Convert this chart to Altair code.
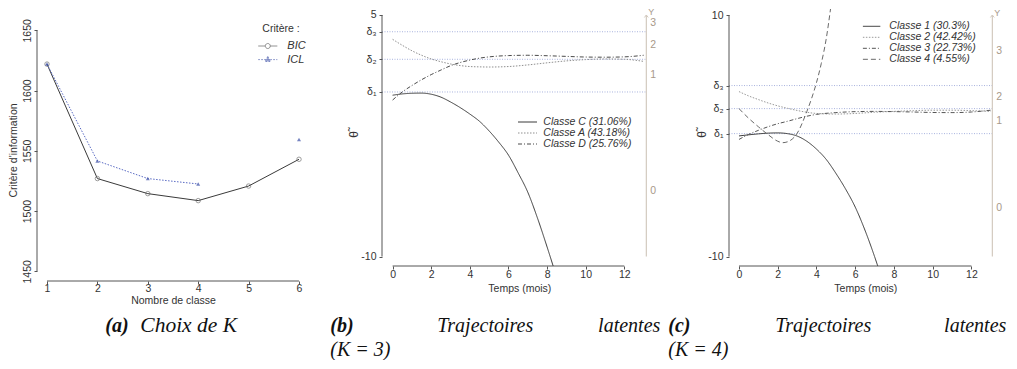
import altair as alt
import pandas as pd

FONT = "Liberation Sans"
SERIF = "Liberation Serif"

# ---------------- Panel (a): information criteria ----------------
K = [1, 2, 3, 4, 5, 6]
BIC = [1622, 1527, 1514.5, 1508.7, 1520.8, 1543]
ICL = [1622, 1541.6, 1527, 1522.5, None, 1559.5]
CRIT = ["BIC", "ICL"]
A_YTICKS = [1450, 1500, 1550, 1600, 1650]

# ---------------- Panel (b): latent trajectories K=3 ----------------
B_CLASSES = ["Classe C (31.06%)", "Classe A (43.18%)", "Classe D (25.76%)"]
B_T_C = [0, 0.5, 1, 1.5, 2, 2.5, 3, 3.5, 4, 4.5, 5, 5.5, 6, 6.5, 7, 7.5, 8, 8.5]
B_C = [0.02, 0.10, 0.14, 0.15, 0.08, -0.1, -0.4, -0.75, -1.15, -1.6, -2.2, -2.9, -3.7, -4.8, -6.0, -7.6, -9.4, -11.3]
B_T = [0, 0.5, 1, 1.5, 2, 2.5, 3, 3.5, 4, 4.5, 5, 6, 7, 8, 9, 10, 11, 12, 13]
B_A = [3.49, 3.12, 2.78, 2.5, 2.27, 2.1, 1.96, 1.86, 1.8, 1.78, 1.77, 1.8, 1.9, 2.03, 2.15, 2.23, 2.27, 2.25, 2.12]
B_D = [-0.28, 0.22, 0.62, 0.98, 1.3, 1.58, 1.85, 2.05, 2.2, 2.32, 2.4, 2.48, 2.5, 2.47, 2.43, 2.39, 2.38, 2.4, 2.5]
B_DELTA = [0.22, 2.25, 3.96]
B_YLAB = ["0", "1", "2", "3"]
B_YTHETA = [-5.93, 1.25, 3.12, 4.53]

# ---------------- Panel (c): latent trajectories K=4 ----------------
C_CLASSES = ["Classe 1 (30.3%)", "Classe 2 (42.42%)", "Classe 3 (22.73%)", "Classe 4 (4.55%)"]
C_T_1 = [0, 0.5, 1, 1.5, 2, 2.5, 3, 3.5, 4, 4.5, 5, 5.5, 6, 6.5, 7, 7.25]
C_1 = [-0.01, 0.08, 0.16, 0.22, 0.24, 0.18, -0.02, -0.45, -1.1, -1.95, -3.1, -4.4, -5.9, -7.8, -10.0, -11.2]
C_T = [0, 0.5, 1, 1.5, 2, 2.5, 3, 3.5, 4, 5, 6, 7, 8, 9, 10, 11, 12, 13]
C_2 = [3.66, 3.3, 3.0, 2.72, 2.48, 2.28, 2.1, 1.95, 1.85, 1.8, 1.85, 1.95, 2.02, 2.08, 2.12, 2.12, 2.08, 2.02]
C_3 = [-0.3, 0.12, 0.45, 0.75, 1.0, 1.2, 1.42, 1.62, 1.77, 1.92, 2.0, 2.02, 2.0, 1.97, 1.93, 1.92, 1.97, 2.12]
C_T_4 = [0, 0.5, 1, 1.5, 2, 2.25, 2.5, 3, 3.5, 3.75, 4, 4.25, 4.5, 4.75]
C_4 = [2.25, 1.45, 0.75, 0.1, -0.45, -0.57, -0.5, 0.2, 2.0, 3.1, 4.4, 6.0, 8.0, 10.8]
C_DELTA = [0.18, 2.25, 4.16]
C_YLAB = ["0", "1", "2", "3"]
C_YTHETA = [-5.94, 1.23, 3.24, 7.02]

X_TICKS = [0, 2, 4, 6, 8, 10, 12]

AXIS_COL = "#555555"
TXT = "#333333"
TAN = "#a8998a"
TAN_LINE = "#d3cabf"
DELTA_COL = "#a9b3de"


def caption(pieces):
    layers = []
    for txt, x, y, align, bold, size in pieces:
        layers.append(
            alt.Chart(alt.Data(values=[{}])).mark_text(
                text=txt, x=x, y=y, align=align, baseline="middle",
                font=SERIF, fontSize=size, fontStyle="italic",
                fontWeight="bold" if bold else "normal", color="#111111")
        )
    return layers


# ======================= Panel (a) =======================
rows = []
for name, vals in zip(CRIT, [BIC, ICL]):
    seg = 0
    for k, v in zip(K, vals):
        if v is None:
            seg += 1
            continue
        rows.append({"crit": name, "K": k, "val": v, "seg": seg})
dfa = pd.DataFrame(rows)

A_W, A_H = 325, 272
A_XDOM = [0.8016, 7.25]
A_YDOM = [1442, 1667.7]

xa = alt.X("K:Q", scale=alt.Scale(domain=A_XDOM, nice=False, zero=False),
           axis=alt.Axis(values=K, title="Nombre de classe", domain=False, grid=False,
                         tickSize=3, labelPadding=-1, labelFlush=False,
                         titleX=136, titleY=19.5, titleBaseline="middle"))
ya = alt.Y("val:Q", scale=alt.Scale(domain=A_YDOM, nice=False, zero=False),
           axis=alt.Axis(values=A_YTICKS, format="d", title="Critère d'information", domain=False,
                         grid=False, tickSize=3, labelAngle=270, labelAlign="center",
                         labelBaseline="middle", labelPadding=6.5, labelFlush=False,
                         titleAngle=270, titleX=-23.7, titleY=141, titleBaseline="middle"))

base_a = alt.Chart(dfa)
a_line_bic = base_a.transform_filter("datum.crit == 'BIC'").mark_line(
    color="#3a3a3a", strokeWidth=1).encode(x=xa, y=ya)
a_line_icl = base_a.transform_filter("datum.crit == 'ICL'").mark_line(
    color="#5a6bc4", strokeWidth=1, strokeDash=[1.5, 1.5]).encode(x=xa, y=ya, detail="seg:N")
a_pt_bic = base_a.transform_filter("datum.crit == 'BIC'").mark_point(
    shape="circle", filled=False, size=20, color="#666666", strokeWidth=0.9).encode(x=xa, y=ya)
a_pt_icl = base_a.transform_filter("datum.crit == 'ICL'").mark_point(
    shape="triangle-up", filled=True, size=16, color="#3b4ea6").encode(x=xa, y=ya)

PATH_BIC = "M-1.9,0L-0.5,0M0.5,0L1.9,0M0.5,0A0.5,0.5,0,1,1,-0.5,0A0.5,0.5,0,1,1,0.5,0"
PATH_ICL = "M-1.9,0L1.9,0M0,-0.6L0.55,0.36L-0.55,0.36Z"
leg_a = alt.Legend(title="Critère :", orient="none", legendX=225.3, legendY=15,
                   symbolSize=100, symbolStrokeWidth=1, labelFontStyle="italic",
                   labelFont=FONT, labelFontSize=11, labelColor=TXT, labelOffset=14,
                   titleFont=FONT, titleFontSize=10.5, titleFontWeight="normal",
                   titleColor=TXT, titlePadding=6, rowPadding=1.6, padding=0)
a_legend = base_a.transform_filter("false").mark_point().encode(
    x=xa, y=ya,
    shape=alt.Shape("crit:N", scale=alt.Scale(domain=CRIT, range=[PATH_BIC, PATH_ICL]), legend=leg_a),
    stroke=alt.Stroke("crit:N", scale=alt.Scale(domain=CRIT, range=["#555555", "#3b4ea6"]), legend=leg_a),
    fill=alt.Fill("crit:N", scale=alt.Scale(domain=CRIT, range=["transparent", "#3b4ea6"]), legend=leg_a),
    strokeDash=alt.StrokeDash("crit:N", scale=alt.Scale(domain=CRIT, range=[[1, 0], [1.5, 1.5]]), legend=leg_a),
)

a_yline = alt.Chart(pd.DataFrame({"K": [A_XDOM[0]], "val": [A_YTICKS[0]], "val2": [A_YTICKS[-1]]})).mark_rule(
    color=AXIS_COL, strokeWidth=1).encode(x=xa, y=ya, y2="val2:Q")
a_xline = alt.Chart(pd.DataFrame({"K": [K[0]], "K2": [K[-1]], "val": [A_YDOM[0]]})).mark_rule(
    color=AXIS_COL, strokeWidth=1).encode(x=xa, x2="K2:Q", y=ya)

panel_a = alt.layer(
    a_yline, a_xline, a_line_bic, a_line_icl, a_pt_bic, a_pt_icl, a_legend,
    *caption([("(a)", 68.3, 316.5, "left", True, 20),
              ("Choix de K", 103.3, 316.5, "left", False, 21.5)])
).properties(width=A_W, height=A_H)


# ======================= Trajectory panels =======================
def traj_panel(classes, times, values, colors, dashes, sym_path, deltas, ytop, ylabs, ythetas,
               xdom, ydom, width, height, right_x, leg_xy, label_offset, ytitle_x, xtitle_x, caps):
    rows = []
    for c, ts, vs in zip(classes, times, values):
        for t, v in zip(ts, vs):
            rows.append({"cls": c, "t": t, "theta": v})
    df = pd.DataFrame(rows)

    yticks = [-10] + deltas + [ytop]
    lab_expr = ("datum.value <= -10 ? '-10' : datum.value >= 5 ? ('' + datum.value) : "
                "datum.value < 1 ? 'δ₁' : datum.value < 3 ? 'δ₂' : 'δ₃'")
    x = alt.X("t:Q", scale=alt.Scale(domain=xdom, nice=False, zero=False),
              axis=alt.Axis(values=X_TICKS, title="Temps (mois)", domain=False, grid=False,
                            tickSize=3, labelPadding=0, labelFlush=False,
                            titleX=xtitle_x, titleY=22, titleBaseline="middle"))
    y = alt.Y("theta:Q", scale=alt.Scale(domain=ydom, nice=False, zero=False),
              axis=alt.Axis(values=yticks, labelExpr=lab_expr, title="θ̃", domain=False,
                            grid=False, tickSize=3, labelPadding=3, labelFlush=False,
                            labelOverlap=False, titleAngle=270, titleX=ytitle_x, titleY=125,
                            titleBaseline="middle", titleFontSize=12))
    leg = alt.Legend(title=None, orient="none", legendX=leg_xy[0], legendY=leg_xy[1],
                     symbolType=sym_path, symbolSize=100, symbolStrokeWidth=1,
                     labelFontStyle="italic", labelFont=FONT, labelFontSize=10.5,
                     labelColor=TXT, labelOffset=label_offset, rowPadding=0, padding=0)
    lines = alt.Chart(df).mark_line(interpolate="monotone", clip=True, strokeWidth=1).encode(
        x=x, y=y, detail="cls:N",
        color=alt.Color("cls:N", scale=alt.Scale(domain=classes, range=colors), legend=leg),
        strokeDash=alt.StrokeDash("cls:N", scale=alt.Scale(domain=classes, range=dashes), legend=leg),
    )
    drules = alt.Chart(pd.DataFrame({"t": [xdom[0]] * len(deltas), "t2": [right_x] * len(deltas),
                                     "theta": deltas})).mark_rule(
        color=DELTA_COL, strokeDash=[1, 1.5], strokeWidth=1).encode(x=x, x2="t2:Q", y=y)
    yline = alt.Chart(pd.DataFrame({"t": [xdom[0]], "theta": [-10], "theta2": [ytop]})).mark_rule(
        color=AXIS_COL, strokeWidth=1).encode(x=x, y=y, y2="theta2:Q")
    xline = alt.Chart(pd.DataFrame({"t": [X_TICKS[0]], "t2": [X_TICKS[-1]], "theta": [ydom[0]]})).mark_rule(
        color=AXIS_COL, strokeWidth=1).encode(x=x, x2="t2:Q", y=y)
    rline = alt.Chart(pd.DataFrame({"t": [right_x], "theta": [-10], "theta2": [ytop]})).mark_rule(
        color=TAN_LINE, strokeWidth=1.2).encode(x=x, y=y, y2="theta2:Q")
    top_df = pd.DataFrame({"t": [right_x], "theta": [ytop], "lab": ["Y"]})
    arrow = alt.Chart(top_df).mark_point(
        shape="M-0.7,0.9L0,0L0.7,0.9", size=30, filled=False, color=TAN_LINE, strokeWidth=1,
        opacity=1).encode(x=x, y=y)
    ytext = alt.Chart(top_df).mark_text(
        align="left", baseline="middle", dx=2, dy=-2.5, font=FONT, fontSize=9, color=TAN).encode(
        x=x, y=y, text="lab:N")
    rlabels = alt.Chart(pd.DataFrame({"t": [right_x] * len(ylabs), "theta": ythetas, "lab": ylabs})).mark_text(
        align="left", baseline="middle", dx=4, font=FONT, fontSize=10.5, color=TAN).encode(
        x=x, y=y, text="lab:N")
    return alt.layer(drules, yline, xline, rline, arrow, ytext, rlabels, lines,
                     *caption(caps)).properties(width=width, height=height)


panel_b = traj_panel(
    B_CLASSES, [B_T_C, B_T, B_T], [B_C, B_A, B_D],
    ["#3a3a3a", "#8f8f8f", "#4a4a4a"], [[1, 0], [1.5, 1.5], [4, 2, 1, 2]],
    "M-1.9,0L1.9,0", B_DELTA, 5, B_YLAB, B_YTHETA,
    [-0.549, 16.385], [-10.584, 5.372], 327, 257, 13.14, (140, 107.5), 10.3, -28.7, 137.3,
    [("(b)", -51.7, 316.5, "left", True, 20), ("Trajectoires", 55.3, 316.5, "left", False, 20),
     ("latentes", 278.3, 316.5, "right", False, 20), ("(K = 3)", -51.7, 340.5, "left", False, 20)])

panel_c = traj_panel(
    C_CLASSES, [C_T_1, C_T, C_T, C_T_4], [C_1, C_2, C_3, C_4],
    ["#3a3a3a", "#9a9a9a", "#555555", "#6a6a6a"], [[1, 0], [1.5, 1.5], [4, 2, 1, 2], [5, 3]],
    "M-1.74,0L1.74,0", C_DELTA, 10, C_YLAB, C_YTHETA,
    [-0.516, 13.423], [-10.778, 10.497], 270, 257, 13.08, (137.1, 11.8), 12.2, -27.7, 136.3,
    [("(c)", -60.7, 316.5, "left", True, 20), ("Trajectoires", 46.3, 316.5, "left", False, 20),
     ("latentes", 277.3, 316.5, "right", False, 20), ("(K = 4)", -60.7, 340.5, "left", False, 20)])

chart = alt.hconcat(panel_a, panel_b, panel_c, spacing=20, bounds="flush").resolve_scale(
    color="independent", strokeDash="independent", shape="independent",
    stroke="independent", fill="independent"
).properties(
    padding=0
).configure_view(stroke=None).configure_axis(
    labelFont=FONT, titleFont=FONT, labelFontSize=10.5, titleFontSize=10.5,
    labelColor=TXT, titleColor=TXT, tickColor=AXIS_COL, tickWidth=1, titleFontWeight="normal"
)

chart.save("out.html", embed_options={"renderer": "svg", "actions": False})
